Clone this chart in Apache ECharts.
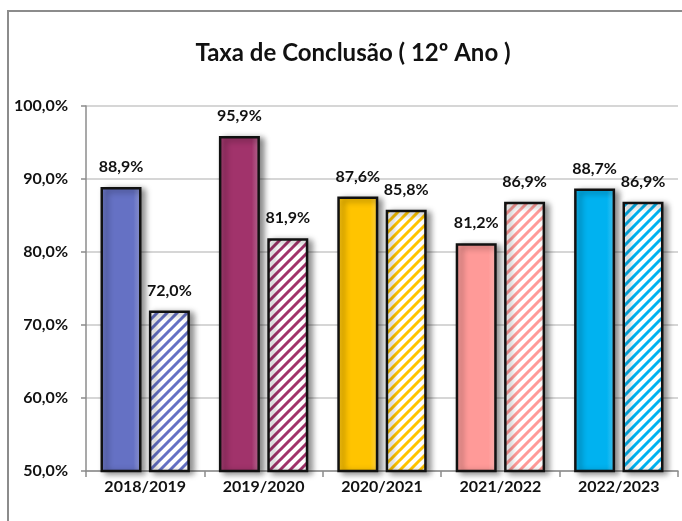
<!DOCTYPE html>
<html>
<head>
<meta charset="utf-8">
<script src="https://cdn.jsdelivr.net/npm/echarts@6/dist/echarts.min.js"></script>
<style>
  html, body { margin: 0; padding: 0; background: #fff; }
  #chart { width: 682px; height: 521px; }
</style>
</head>
<body>
<div id="chart"></div>
<script>
// dados
const anos = ['2018/2019', '2019/2020', '2020/2021', '2021/2022', '2022/2023'];
const serieA = [88.9, 95.9, 87.6, 81.2, 88.7];
const serieB = [72.0, 81.9, 85.8, 86.9, 86.9];
const cores = ['#6571c4', '#a1336b', '#ffc400', '#ff9a98', '#00b2f0'];
const eixoY = { min: 50, max: 100, step: 10 };

const fmt = v => v.toFixed(1).replace('.', ',') + '%';
const fonte = 'Lato';

// padrão de riscas diagonais
const riscas = cor => {
  const c = document.createElement('canvas');
  c.width = 10; c.height = 10;
  const ctx = c.getContext('2d');
  ctx.fillStyle = '#fff';
  ctx.fillRect(0, 0, 10, 10);
  ctx.strokeStyle = cor;
  ctx.lineWidth = 3;
  ctx.beginPath();
  ctx.moveTo(-5, 5); ctx.lineTo(5, -5);
  ctx.moveTo(0, 10); ctx.lineTo(10, 0);
  ctx.moveTo(5, 15); ctx.lineTo(15, 5);
  ctx.stroke();
  return c;
};

const sombra = {
  borderColor: '#111',
  borderWidth: 2.5,
  shadowColor: 'rgba(0,0,0,0.45)',
  shadowBlur: 6,
  shadowOffsetX: 4,
  shadowOffsetY: 2
};

const rotulo = {
  show: true,
  position: 'top',
  distance: 12,
  formatter: p => fmt(p.value),
  fontFamily: fonte,
  fontWeight: 'bold',
  fontSize: 16,
  color: '#111'
};

const chart = echarts.init(document.getElementById('chart'));

chart.setOption({
  animation: false,
  title: {
    text: 'Taxa de Conclusão ( 12º Ano )',
    left: 348,
    top: 36,
    textAlign: 'center',
    textStyle: { fontFamily: fonte, fontWeight: 'bold', fontSize: 24, color: '#111' }
  },
  graphic: [{
    type: 'rect',
    shape: { x: 8, y: 11, width: 700, height: 600 },
    style: { fill: 'none', stroke: '#8c8c8c', lineWidth: 2 },
    z: -1
  }],
  grid: { left: 86, right: 4, top: 106, bottom: 50 },
  xAxis: {
    type: 'category',
    data: anos,
    axisLine: { lineStyle: { color: '#8c8c8c', width: 1.5 } },
    axisTick: { show: true, alignWithLabel: false, length: 6, lineStyle: { color: '#8c8c8c', width: 1.5 } },
    axisLabel: { fontFamily: fonte, fontWeight: 'bold', fontSize: 16, color: '#111', margin: 8 }
  },
  yAxis: {
    type: 'value',
    min: eixoY.min,
    max: eixoY.max,
    interval: eixoY.step,
    axisLine: { show: true, lineStyle: { color: '#8c8c8c', width: 1.5 } },
    axisTick: { show: true, length: 5, lineStyle: { color: '#8c8c8c', width: 1.5 } },
    splitLine: { lineStyle: { color: '#d6d6d6', width: 2 } },
    axisLabel: { formatter: fmt, fontFamily: fonte, fontWeight: 'bold', fontSize: 16, color: '#111', margin: 18 }
  },
  series: [
    {
      type: 'bar',
      barWidth: 41,
      barGap: '18%',
      data: serieA.map((v, i) => ({
        value: v,
        itemStyle: Object.assign({
          color: new echarts.graphic.LinearGradient(0, 0, 1, 0, [
            { offset: 0, color: echarts.color.lift(cores[i], 0.1) },
            { offset: 0.15, color: cores[i] },
            { offset: 0.8, color: cores[i] },
            { offset: 1, color: echarts.color.lift(cores[i], 0.3) }
          ])
        }, sombra)
      })),
      label: rotulo
    },
    {
      type: 'bar',
      barWidth: 41,
      data: serieB.map((v, i) => ({
        value: v,
        itemStyle: Object.assign({ color: { image: riscas(cores[i]), repeat: 'repeat' } }, sombra)
      })),
      label: rotulo
    }
  ]
});
</script>
</body>
</html>
